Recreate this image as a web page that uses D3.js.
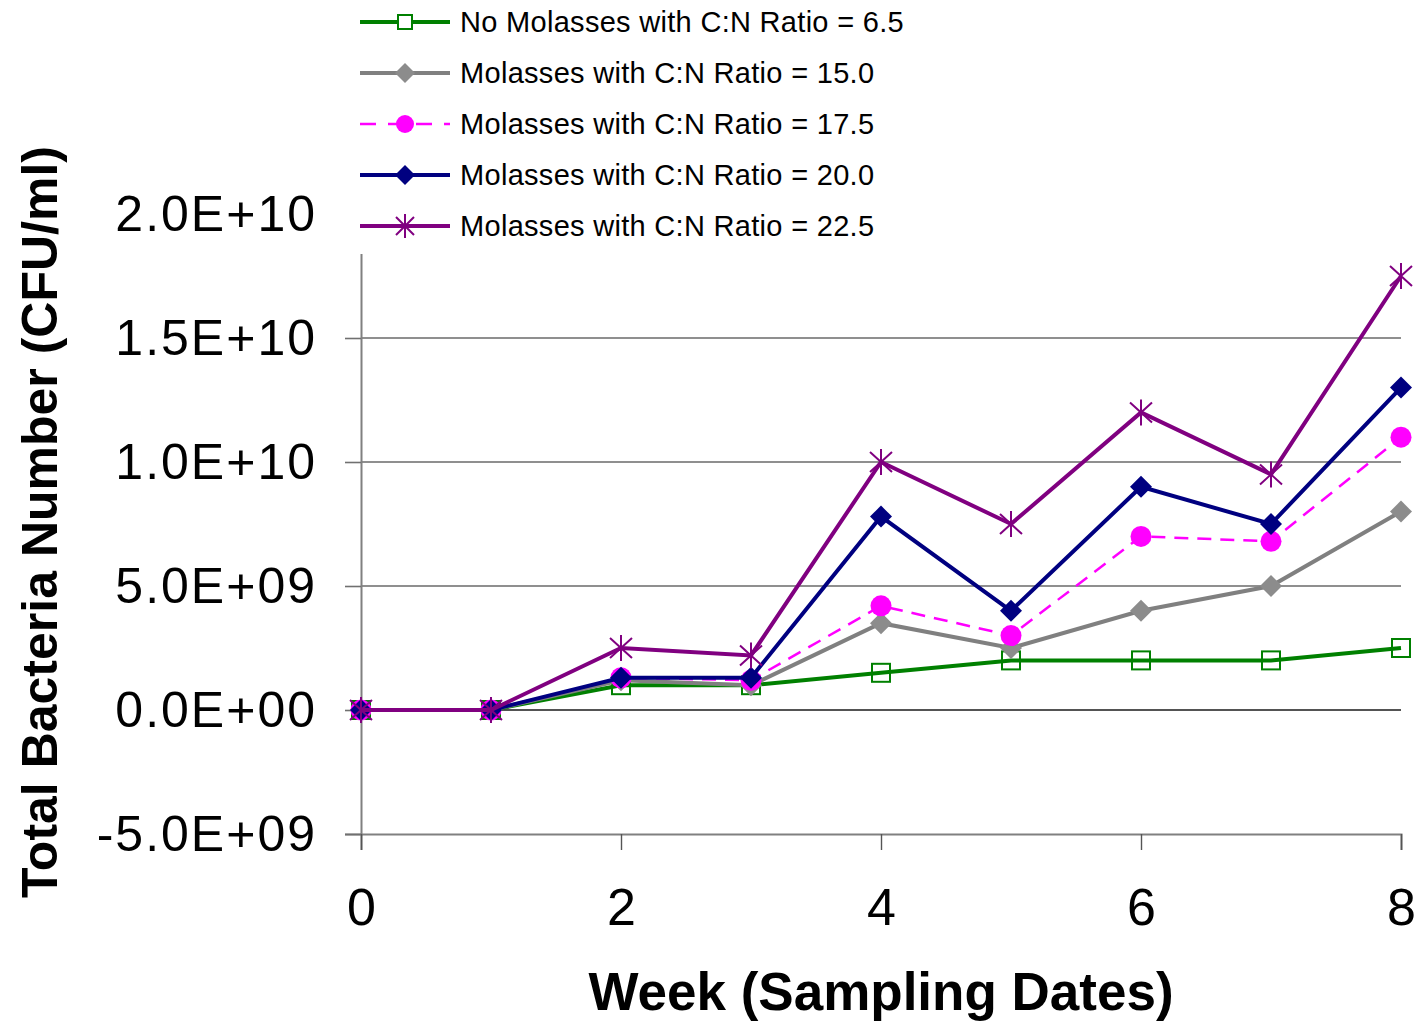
<!DOCTYPE html>
<html>
<head>
<meta charset="utf-8">
<script src="https://cdn.jsdelivr.net/npm/d3@7"></script>
<style>
  html, body { margin: 0; padding: 0; background: #fff; }
  svg { display: block; font-family: "Liberation Sans", Arial, sans-serif; }
</style>
</head>
<body>
<svg id="chart" width="1423" height="1023"></svg>
<script>
// Sampling weeks
const weeks = [0, 1, 2, 3, 4, 5, 6, 7, 8];

// Total bacteria number (CFU/ml) per treatment
const noMolasses65 = [0, 0, 1.0e9, 1.0e9, 1.5e9, 2.0e9, 2.0e9, 2.0e9, 2.5e9];
const molasses150  = [0, 0, 1.2e9, 1.0e9, 3.5e9, 2.5e9, 4.0e9, 5.0e9, 8.0e9];
const molasses175  = [0, 0, 1.3e9, 1.2e9, 4.2e9, 3.0e9, 7.0e9, 6.8e9, 1.1e10];
const molasses200  = [0, 0, 1.3e9, 1.3e9, 7.8e9, 4.0e9, 9.0e9, 7.5e9, 1.3e10];
const molasses225  = [0, 0, 2.5e9, 2.2e9, 1.0e10, 7.5e9, 1.2e10, 9.5e9, 1.75e10];

const seriesNames = [
  "No Molasses with C:N Ratio = 6.5",
  "Molasses with C:N Ratio = 15.0",
  "Molasses with C:N Ratio = 17.5",
  "Molasses with C:N Ratio = 20.0",
  "Molasses with C:N Ratio = 22.5"
];

const yTicks = [-5e9, 0, 5e9, 1e10, 1.5e10, 2e10];
const yTickLabels = ["-5.0E+09", "0.0E+00", "5.0E+09", "1.0E+10", "1.5E+10", "2.0E+10"];
const xTicks = [0, 2, 4, 6, 8];

const series = [
  { name: seriesNames[0], values: noMolasses65, color: "#008000", marker: "square", dash: null },
  { name: seriesNames[1], values: molasses150,  color: "#808080", marker: "diamond", dash: null, fill: "#8c8c8c" },
  { name: seriesNames[2], values: molasses175,  color: "#ff00ff", marker: "circle", dash: "14,9" },
  { name: seriesNames[3], values: molasses200,  color: "#000080", marker: "diamond", dash: null },
  { name: seriesNames[4], values: molasses225,  color: "#800080", marker: "star", dash: null }
];

const svg = d3.select("#chart");
const x = d3.scaleLinear().domain([0, 8]).range([361, 1401]);
const y = d3.scaleLinear().domain([-5e9, 2e10]).range([834, 214]);

// Horizontal gridlines
svg.append("g").selectAll("line")
  .data(yTicks.filter(v => v > -5e9))
  .join("line")
  .attr("x1", x(0)).attr("x2", x(8))
  .attr("y1", d => y(d)).attr("y2", d => y(d))
  .attr("stroke", d => d === 0 ? "#1a1a1a" : "#6a6a6a")
  .attr("stroke-width", 1.6);

// Y axis
const yAxis = d3.axisLeft(y).tickValues(yTicks).tickSize(16)
  .tickFormat((d, i) => yTickLabels[i]).tickPadding(28);
const gy = svg.append("g").attr("transform", `translate(${x(0)},0)`).call(yAxis);
gy.select(".domain").attr("stroke", "#808080").attr("stroke-width", 2);
gy.selectAll(".tick line").attr("stroke", "#707070").attr("stroke-width", 1.6);
gy.selectAll(".tick text").attr("font-size", 50).attr("fill", "#000")
  .attr("letter-spacing", "2px")
  .attr("font-family", "Liberation Sans, Arial, sans-serif");

// X axis
const xAxis = d3.axisBottom(x).tickValues(xTicks).tickSize(16).tickPadding(38).tickFormat(d3.format("d"));
const gx = svg.append("g").attr("transform", `translate(0,${y(-5e9)})`).call(xAxis);
gx.select(".domain").attr("stroke", "#808080").attr("stroke-width", 2);
gx.selectAll(".tick line").attr("stroke", "#555").attr("stroke-width", 1.4);
gx.selectAll(".tick text").attr("font-size", 52).attr("fill", "#000")
  .attr("font-family", "Liberation Sans, Arial, sans-serif");

// Marker drawing
function drawMarker(g, type, color, fill) {
  if (type === "square") {
    g.append("rect").attr("x", -9).attr("y", -9).attr("width", 18).attr("height", 18)
      .attr("fill", "none").attr("stroke", color).attr("stroke-width", 2);
  } else if (type === "diamond") {
    g.append("path").attr("d", "M0,-11L11,0L0,11L-11,0Z").attr("fill", fill || color);
  } else if (type === "circle") {
    g.append("circle").attr("r", 10.5).attr("fill", color);
  } else if (type === "star") {
    g.append("path").attr("d", "M-11,-10L11,10M-11,10L11,-10M0,-13L0,13")
      .attr("stroke", color).attr("stroke-width", 2).attr("fill", "none");
  }
}

const line = d3.line().x((d, i) => x(weeks[i])).y(d => y(d));

series.forEach(s => {
  const g = svg.append("g");
  g.append("path").datum(s.values)
    .attr("d", line)
    .attr("fill", "none")
    .attr("stroke", s.color)
    .attr("stroke-width", s.dash ? 2.5 : 4)
    .attr("stroke-dasharray", s.dash);
  g.selectAll("g.pt").data(s.values).join("g").attr("class", "pt")
    .attr("transform", (d, i) => `translate(${x(weeks[i])},${y(d)})`)
    .each(function () { drawMarker(d3.select(this), s.marker, s.color, s.fill); });
});

// Legend: white box across the top of the plot area
const legend = svg.append("g");
legend.append("rect").attr("x", 338).attr("y", 0).attr("width", 1085).attr("height", 254).attr("fill", "#fff");
const legendY = d3.scalePoint().domain(seriesNames).range([22, 226]);
series.forEach(s => {
  const cy = legendY(s.name);
  const lg = legend.append("g");
  lg.append("line").attr("x1", 360).attr("x2", 450).attr("y1", cy).attr("y2", cy)
    .attr("stroke", s.color).attr("stroke-width", s.dash ? 2.5 : 4).attr("stroke-dasharray", s.dash ? "16,12" : null);
  const m = lg.append("g").attr("transform", `translate(405,${cy})`);
  if (s.marker === "circle") {
    m.append("circle").attr("r", 9).attr("fill", s.color);
  } else if (s.marker === "diamond") {
    m.append("path").attr("d", "M0,-10L10,0L0,10L-10,0Z").attr("fill", s.fill || s.color);
  } else if (s.marker === "square") {
    m.append("rect").attr("x", -7).attr("y", -7).attr("width", 14).attr("height", 14)
      .attr("fill", "#fff").attr("stroke", s.color).attr("stroke-width", 2);
  } else {
    m.append("path").attr("d", "M-9,-9L9,9M-9,9L9,-9M0,-12L0,12")
      .attr("stroke", s.color).attr("stroke-width", 2).attr("fill", "none");
  }
  lg.append("text").attr("x", 460).attr("y", cy).attr("dy", "0.36em")
    .attr("font-size", 29).attr("letter-spacing", "0.3px").attr("fill", "#000").text(s.name);
});

// Axis titles
svg.append("text")
  .attr("x", 881).attr("y", 1010)
  .attr("text-anchor", "middle").attr("font-weight", "bold").attr("font-size", 53)
  .text("Week (Sampling Dates)");

svg.append("text")
  .attr("transform", "translate(57,522) rotate(-90)")
  .attr("text-anchor", "middle").attr("font-weight", "bold").attr("font-size", 50)
  .text("Total Bacteria Number (CFU/ml)");
</script>
</body>
</html>
